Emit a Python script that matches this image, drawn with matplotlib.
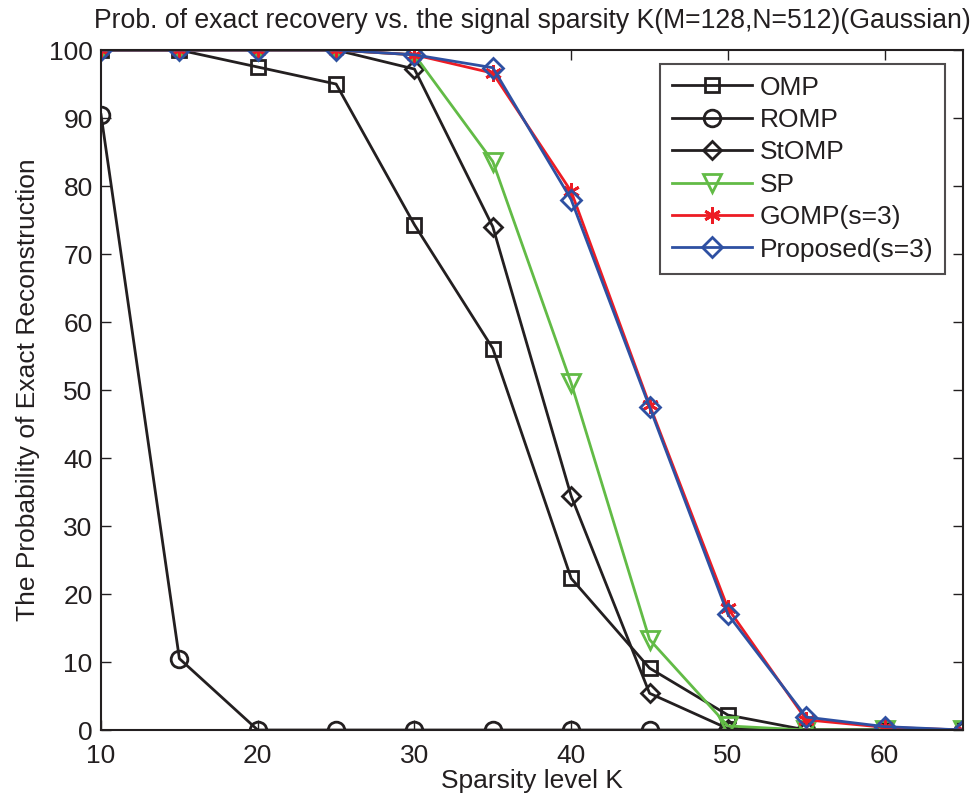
import matplotlib
matplotlib.use("Agg")
import matplotlib.pyplot as plt

plt.rcParams['font.family'] = ['Liberation Sans', 'DejaVu Sans']

K = [10, 15, 20, 25, 30, 35, 40, 45, 50, 55, 60, 65]
omp = [100, 100, 97.5, 95.0, 74.3, 56.1, 22.3, 9.1, 2.2, 0, 0, 0]
romp = [90.5, 10.5, 0, 0, 0, 0, 0, 0, 0, 0, 0, 0]
stomp = [100, 100, 100, 100, 97.2, 74.0, 34.4, 5.4, 0.2, 0, 0, 0]
sp = [100, 100, 100, 100, 99.3, 83.6, 51.0, 13.3, 0.6, 0, 0, 0]
gomp = [100, 100, 100, 100, 99.3, 96.6, 79.2, 47.8, 17.9, 1.5, 0.4, 0]
proposed = [100, 100, 100, 100, 99.3, 97.4, 78.0, 47.5, 17.0, 1.9, 0.5, 0]

xticks = [10, 20, 30, 40, 50, 60]
yticks = list(range(0, 101, 10))

BLACK = '#231f20'
GREEN = '#62bb46'
RED = '#ed1c24'
BLUE = '#2e50a2'

fig = plt.figure(figsize=(9.76, 7.98), dpi=100)
ax = fig.add_axes([0.1035, 0.0852, 0.8832, 0.8521])

lw = 2.0
ax.plot(K, omp, color=BLACK, lw=lw, marker='s', ms=10, mfc='none', mew=2, label='OMP')
ax.plot(K, romp, color=BLACK, lw=lw, marker='o', ms=12, mfc='none', mew=2, label='ROMP')
ax.plot(K, stomp, color=BLACK, lw=lw, marker='D', ms=9.5, mfc='none', mew=2, label='StOMP')
ax.plot(K, sp, color=GREEN, lw=lw, marker='v', ms=13, mfc='none', mew=2, label='SP')
ax.plot(K, gomp, color=RED, lw=lw, marker=(6, 2, 0), ms=12, mfc='none', mew=2, label='GOMP(s=3)')
ax.plot(K, proposed, color=BLUE, lw=lw, marker='D', ms=10.5, mfc='none', mew=2, label='Proposed(s=3)')

ax.set_xlim(10, 65)
ax.set_ylim(0, 100)
ax.set_xticks(xticks)
ax.set_yticks(yticks)
ax.tick_params(direction='in', length=7, width=1, top=True, right=True,
               labelsize=19, colors=BLACK)
ax.tick_params(axis='x', pad=10)
ax.tick_params(axis='y', pad=6)
for s in ax.spines.values():
    s.set_linewidth(1.5)
    s.set_color(BLACK)

ax.set_xlabel('Sparsity level K', fontsize=19, color=BLACK, labelpad=1)
ax.set_ylabel('The Probability of Exact Reconstruction', fontsize=19, color=BLACK, labelpad=6)
ax.set_title('Prob. of exact recovery vs. the signal sparsity K(M=128,N=512)(Gaussian)',
             fontsize=19.2, color=BLACK, pad=16)

leg = ax.legend(loc='upper right', bbox_to_anchor=(0.979, 0.98), fontsize=19,
                frameon=True, fancybox=False, edgecolor=BLACK, handlelength=3.0,
                handletextpad=0.3, borderpad=0.45, labelspacing=0.32, borderaxespad=0)
leg.get_frame().set_linewidth(1.5)
for t in leg.get_texts():
    t.set_color(BLACK)

fig.savefig('out.png', dpi=100)
